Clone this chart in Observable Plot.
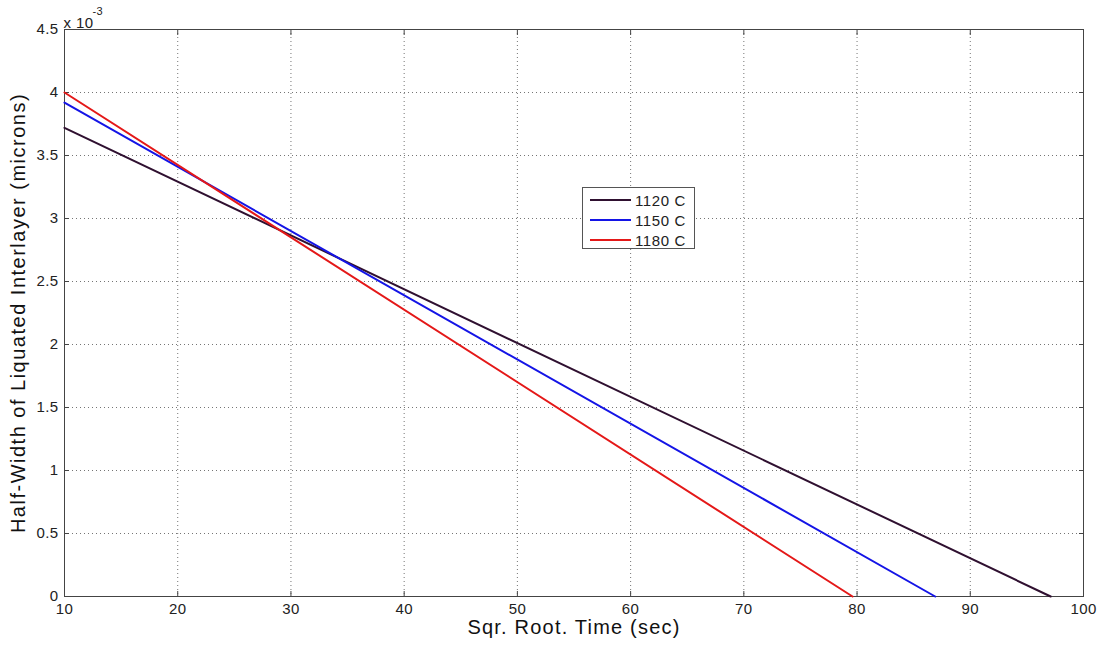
<!DOCTYPE html>
<html><head><meta charset="utf-8">
<script src="https://cdn.jsdelivr.net/npm/d3@7"></script>
<script src="https://cdn.jsdelivr.net/npm/@observablehq/plot@0.6"></script>
<style>
body{margin:0;background:#fff;}
#wrap{position:relative;width:1105px;height:646px;font-family:"Liberation Sans",Arial,sans-serif;}
#legend{position:absolute;left:582px;top:187px;width:113px;height:62px;border:1px solid #555;background:#fff;box-sizing:border-box;font-size:15px;letter-spacing:0.6px;color:#222}
.row{position:absolute;left:7px;height:18px;display:flex;align-items:center}
.sw{width:41px;height:0;border-top:2px solid;margin-right:4px}
</style></head>
<body><div id="wrap"></div>
<script>
// Data (half-width in microns vs sqrt time)
const seriesNames = ["1120 C", "1150 C", "1180 C"];
const seriesColors = ["#2f1030", "#1414e6", "#e41818"];
const t1120 = [10, 97.1];
const w1120 = [3.72e-3, 0];
const t1150 = [10, 86.9];
const w1150 = [3.92e-3, 0];
const t1180 = [10, 79.6];
const w1180 = [4.0e-3, 0];
const xTicks = [10, 20, 30, 40, 50, 60, 70, 80, 90, 100];
const yTicks = [0, 0.5e-3, 1e-3, 1.5e-3, 2e-3, 2.5e-3, 3e-3, 3.5e-3, 4e-3, 4.5e-3];
const xLabel = "Sqr. Root. Time (sec)";
const yLabel = "Half-Width of Liquated Interlayer (microns)";

const rows = [];
[[t1120, w1120], [t1150, w1150], [t1180, w1180]].forEach(([ts, ws], i) => {
  ts.forEach((t, j) => rows.push({series: seriesNames[i], t, w: ws[j]}));
});

const fmtY = d => String(+(d * 1000).toFixed(1));

const chart = Plot.plot({
  width: 1105,
  height: 646,
  marginLeft: 64,
  marginRight: 22,
  marginTop: 29,
  marginBottom: 50,
  style: {fontFamily: '"Liberation Sans", Arial, sans-serif', fontSize: "15px", color: "#222", background: "#fff", letterSpacing: "0.4px"},
  x: {domain: [10, 100]},
  y: {domain: [0, 4.5e-3]},
  color: {domain: seriesNames, range: seriesColors},
  marks: [
    Plot.gridX(xTicks, {stroke: "#666", strokeOpacity: 0.9, strokeDasharray: "1,3"}),
    Plot.gridY(yTicks, {stroke: "#666", strokeOpacity: 0.9, strokeDasharray: "1,3"}),
    Plot.axisX({ticks: xTicks, tickSize: -5, tickPadding: 12, label: null, stroke: "#444"}),
    Plot.axisX({anchor: "top", ticks: xTicks, tickSize: -5, tickFormat: () => "", label: null, stroke: "#444"}),
    Plot.axisY({ticks: yTicks, tickSize: -5, tickPadding: 11, tickFormat: fmtY, label: null, stroke: "#444"}),
    Plot.axisY({anchor: "right", ticks: yTicks, tickSize: -5, tickFormat: () => "", label: null, stroke: "#444"}),
    Plot.frame({stroke: "#444"}),
    Plot.line(rows, {x: "t", y: "w", z: "series", stroke: "series", strokeWidth: 2}),
    Plot.text([xLabel], {frameAnchor: "bottom", textAnchor: "middle", dy: 37, fontSize: 20, fill: "#111"}),
    Plot.text([yLabel], {frameAnchor: "left", textAnchor: "middle", rotate: -90, dx: -46, fontSize: 20, fill: "#111"}),
    Plot.text(["x 10"], {frameAnchor: "top-left", textAnchor: "start", dx: -1, dy: -12, fontSize: 15, fill: "#222"}),
    Plot.text(["-3"], {frameAnchor: "top-left", textAnchor: "start", dx: 28, dy: -22, fontSize: 11, fill: "#222"})
  ]
});
const wrap = document.getElementById("wrap");
wrap.appendChild(chart);
// letter-spacing for axis titles
chart.querySelectorAll("text").forEach(t => {
  if (t.textContent === xLabel) t.setAttribute("letter-spacing", "1.2px");
  if (t.textContent === yLabel) t.setAttribute("letter-spacing", "1.5px");
});

const lg = document.createElement("div");
lg.id = "legend";
seriesNames.forEach((n, i) => {
  const r = document.createElement("div");
  r.className = "row";
  r.style.top = (3 + i * 20) + "px";
  const sw = document.createElement("span");
  sw.className = "sw";
  sw.style.borderTopColor = seriesColors[i];
  const tx = document.createElement("span");
  tx.textContent = n;
  r.appendChild(sw); r.appendChild(tx);
  lg.appendChild(r);
});
wrap.appendChild(lg);
</script>
</body></html>
